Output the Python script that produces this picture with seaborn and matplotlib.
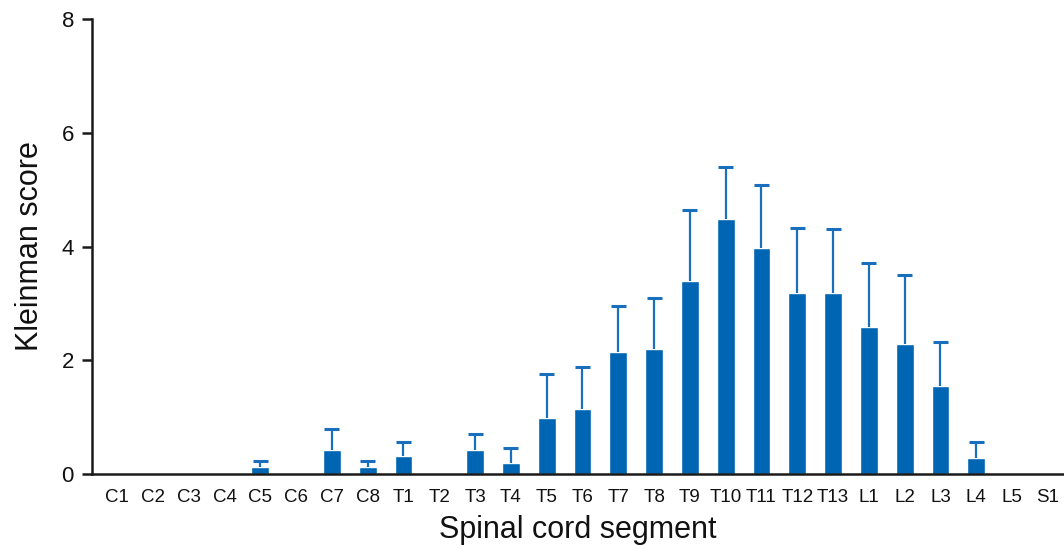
import numpy as np
import pandas as pd
import matplotlib
matplotlib.use("Agg")
import matplotlib.pyplot as plt
import seaborn as sns

# Kleinman score per spinal cord segment (mean, upper error bar)
segments = ['C1', 'C2', 'C3', 'C4', 'C5', 'C6', 'C7', 'C8',
            'T1', 'T2', 'T3', 'T4', 'T5', 'T6', 'T7', 'T8', 'T9', 'T10', 'T11', 'T12', 'T13',
            'L1', 'L2', 'L3', 'L4', 'L5', 'S1']
means = [0, 0, 0, 0, 0.13, 0, 0.42, 0.13,
         0.31, 0, 0.42, 0.19, 0.98, 1.14, 2.14, 2.19, 3.39, 4.48, 3.98, 3.18, 3.18,
         2.58, 2.28, 1.55, 0.29, 0, 0]
err_tops = [0, 0, 0, 0, 0.22, 0, 0.79, 0.22,
            0.56, 0, 0.71, 0.45, 1.76, 1.88, 2.96, 3.09, 4.65, 5.40, 5.09, 4.32, 4.30,
            3.71, 3.50, 2.32, 0.57, 0, 0]

df = pd.DataFrame({'segment': segments, 'score': means, 'top': err_tops})
df['x'] = np.arange(len(df))

sns.set_theme()
sns.set_style("white")
plt.rcParams['font.family'] = ['Liberation Sans', 'DejaVu Sans']

blue = '#0066b3'
ecol = '#1a6fbd'
fig = plt.figure(figsize=(10.64, 5.49), dpi=100)
ax = fig.add_axes([0.0865, 0.1366, 0.9135, 0.8288])

sns.barplot(data=df, x='segment', y='score', color=blue, saturation=1,
            width=0.5, errorbar=None, order=segments, ax=ax)

# upper-only error bars with caps
e = df[df['top'] > df['score']]
ax.vlines(e['x'], e['score'], e['top'], color=ecol, lw=1.6, zorder=1)
ax.hlines(e['top'], e['x'] - 0.21, e['x'] + 0.21, color=ecol, lw=2.2, zorder=1)

ax.set_xlim(-0.70, 26.45)
ax.set_ylim(0, 8)
ax.set_yticks([0, 2, 4, 6, 8])
sns.despine(ax=ax)
for side in ['left', 'bottom']:
    ax.spines[side].set_color('#1a1a1a')
    ax.spines[side].set_linewidth(1.8)
    ax.spines[side].set_zorder(3)
ax.tick_params(axis='y', left=True, direction='out', length=7, width=1.8, color='#1a1a1a',
               labelsize=16, pad=6, labelcolor='#111111')
ax.tick_params(axis='x', bottom=False, labelsize=13.5, pad=5, labelcolor='#111111')
ax.set_xlabel('Spinal cord segment', fontsize=22, labelpad=6, color='#111111')
ax.set_ylabel('Kleinman score', fontsize=22, labelpad=12, color='#111111')

fig.savefig('out.png', dpi=100)
